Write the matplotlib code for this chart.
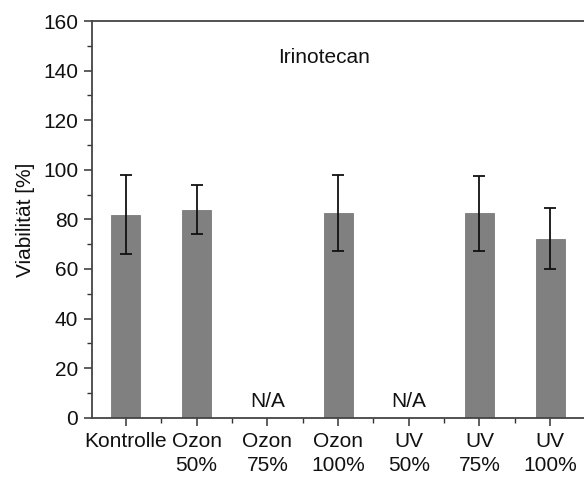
import matplotlib

matplotlib.use("Agg")
import matplotlib.pyplot as plt
import numpy as np
from matplotlib.ticker import FixedLocator, MultipleLocator

plt.rcParams["font.family"] = ["Liberation Sans", "DejaVu Sans"]

# Viabilität je Behandlung (NaN = keine Daten)
categories = ["Kontrolle", "Ozon\n50%", "Ozon\n75%", "Ozon\n100%", "UV\n50%", "UV\n75%", "UV\n100%"]
viability = [81.9, 83.9, np.nan, 82.6, np.nan, 82.4, 72.1]
viability_err = [16.0, 9.8, np.nan, 15.2, np.nan, 15.1, 12.3]
title = "Irinotecan"

x = np.arange(1, len(categories) + 1)
vals = np.array(viability)
errs = np.array(viability_err)
has_data = ~np.isnan(vals)

fig = plt.figure(figsize=(5.84, 4.79), dpi=100)
ax = fig.add_axes([0.1575, 0.128, 0.845, 0.828])

ax.bar(x[has_data], vals[has_data], width=0.41, color="#808080", edgecolor="#7a7a7a", linewidth=0.6, zorder=2)
ax.errorbar(x[has_data], vals[has_data], yerr=errs[has_data], fmt="none",
            ecolor="#111111", elinewidth=1.3, capsize=4.2, capthick=1.3, zorder=3)

for xi in x[~has_data]:
    ax.text(xi, 2.5, "N/A", ha="center", va="bottom", fontsize=15, color="#111111")

ax.text(3.8, 145.5, title, ha="center", va="center", fontsize=15, color="#111111")

ax.set_xlim(0.52, 7.5)
ax.set_ylim(0, 160)
ax.set_xticks(x)
ax.set_xticklabels(categories)
for lbl in ax.get_xticklabels():
    lbl.set_linespacing(1.35)
ax.xaxis.set_minor_locator(FixedLocator(np.arange(1.5, 7.6, 1.0)))
ax.yaxis.set_major_locator(MultipleLocator(20))
ax.yaxis.set_minor_locator(MultipleLocator(10))

ax.set_ylabel("Viabilität [%]", fontsize=15, color="#111111", labelpad=6)
ax.tick_params(axis="both", which="major", direction="out", length=6, width=1.1,
               labelsize=15, pad=4, colors="#333333", labelcolor="#111111")
ax.tick_params(axis="both", which="minor", direction="out", length=3.5, width=1.0, colors="#333333")

for side in ["left", "bottom", "top", "right"]:
    ax.spines[side].set_color("#444444")
    ax.spines[side].set_linewidth(1.3)

fig.savefig("out.png", dpi=100)
